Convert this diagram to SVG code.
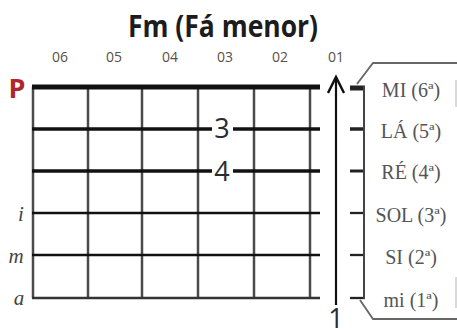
<svg xmlns="http://www.w3.org/2000/svg" width="457" height="329" viewBox="0 0 457 329">
<style>
.fret{stroke:#4a4a4a;stroke-width:2.5;fill:none}
.str{stroke:#111;fill:none}
.col{font-family:"Open Sans","Liberation Sans",sans-serif;font-size:14px;fill:#5a5046;text-anchor:middle}
.big{font-family:"Open Sans","Liberation Sans",sans-serif;font-size:27px;fill:#2b2b33;text-anchor:middle}
.fing{font-family:"Liberation Serif",serif;font-style:italic;font-size:21px;fill:#444;text-anchor:middle}
.note{font-family:"Liberation Serif",serif;font-size:20px;fill:#555;text-anchor:middle}
.tick{stroke:#222;fill:none}
.box{stroke:#666;stroke-width:1.8;fill:none}
</style>
<rect width="457" height="329" fill="#fff"/>
<g id="title">
<text x="223" y="37" font-family="'Open Sans','Liberation Sans',sans-serif" font-weight="bold" font-size="30" fill="#1c1c1c" text-anchor="middle" textLength="190" lengthAdjust="spacingAndGlyphs">Fm (Fá menor)</text>
</g>
<g id="column-labels">
<text class="col" x="60" y="62">06</text>
<text class="col" x="114" y="62">05</text>
<text class="col" x="170" y="62">04</text>
<text class="col" x="225" y="62">03</text>
<text class="col" x="280" y="62">02</text>
<text class="col" x="336" y="62">01</text>
</g>
<g id="frets">
<line class="fret" x1="33" y1="87" x2="33" y2="298"/>
<line class="fret" x1="88" y1="87" x2="88" y2="298"/>
<line class="fret" x1="142" y1="87" x2="142" y2="298"/>
<line class="fret" x1="198" y1="87" x2="198" y2="298"/>
<line class="fret" x1="254" y1="87" x2="254" y2="298"/>
<line class="fret" x1="310" y1="87" x2="310" y2="298"/>
</g>
<g id="strings">
<line class="str" x1="32" y1="87" x2="320" y2="87" stroke-width="5"/>
<line class="str" x1="32" y1="129" x2="212" y2="129" stroke-width="3.5"/>
<line class="str" x1="233" y1="129" x2="320" y2="129" stroke-width="3.5"/>
<line class="str" x1="32" y1="171" x2="212" y2="171" stroke-width="3.5"/>
<line class="str" x1="233" y1="171" x2="320" y2="171" stroke-width="3.5"/>
<line class="str" x1="32" y1="213" x2="320" y2="213" stroke-width="2.5"/>
<line class="str" x1="32" y1="255" x2="320" y2="255" stroke-width="2.3"/>
<line x1="32" y1="298" x2="320" y2="298" stroke="#333" stroke-width="2.5"/>
</g>
<g id="finger-numbers">
<text class="big" x="222" y="138">3</text>
<text class="big" x="222" y="181">4</text>
<text class="big" x="336" y="328" font-size="24">1</text>
</g>
<g id="left-labels">
<text x="17" y="98" font-family="'Open Sans','Liberation Sans',sans-serif" font-weight="bold" font-size="27" fill="#b0262b" text-anchor="middle">P</text>
<text class="fing" x="21" y="221">i</text>
<text class="fing" x="16" y="263">m</text>
<text class="fing" x="19" y="305">a</text>
</g>
<g id="connectors">
<line x1="336" y1="305" x2="336" y2="78" stroke="#111" stroke-width="2.2"/>
<polyline points="328,93 336,77 344,93" fill="none" stroke="#111" stroke-width="2.5"/>
</g>
<g id="string-names">
<line class="tick" x1="350" y1="88" x2="365" y2="88" stroke-width="5"/>
<line class="tick" x1="350" y1="129" x2="365" y2="129" stroke-width="3.5"/>
<line class="tick" x1="350" y1="171" x2="365" y2="171" stroke-width="3"/>
<line class="tick" x1="350" y1="213" x2="365" y2="213" stroke-width="2.3"/>
<line class="tick" x1="350" y1="255" x2="365" y2="255" stroke-width="2.3"/>
<line class="tick" x1="350" y1="298" x2="365" y2="298" stroke-width="2.3"/>
<line x1="364" y1="86" x2="364" y2="299" stroke="#444" stroke-width="2"/>
<polyline class="box" points="357,84 373,63 457,63"/>
<polyline class="box" points="360,300 373,319 457,319"/>
<line x1="456" y1="80" x2="456" y2="107" stroke="#ccc" stroke-width="1.5"/>
<line x1="456" y1="277" x2="456" y2="308" stroke="#ccc" stroke-width="1.5"/>
<text class="note" x="411" y="97">MI (6ª)</text>
<text class="note" x="411" y="138">LÁ (5ª)</text>
<text class="note" x="411" y="179">RÉ (4ª)</text>
<text class="note" x="411" y="222">SOL (3ª)</text>
<text class="note" x="411" y="264">SI (2ª)</text>
<text class="note" x="411" y="307">mi (1ª)</text>
</g>
</svg>
